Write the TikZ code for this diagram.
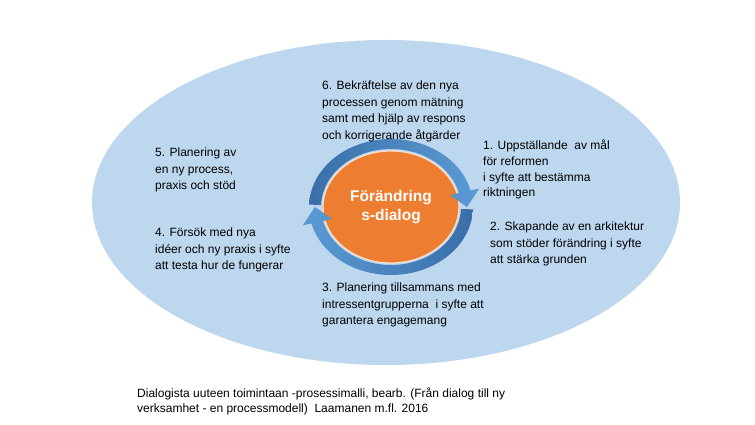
\documentclass[tikz,border=0pt]{standalone}
\usepackage{fontspec}
\setmainfont{Liberation Sans}
\usetikzlibrary{shapes.geometric}

\definecolor{fond}{HTML}{BDD7EE}
\definecolor{orange}{HTML}{ED7D31}
\definecolor{bleuclair}{HTML}{5B9BD5}
\definecolor{bleufonce}{HTML}{3A6EA8}

\begin{document}
\begin{tikzpicture}[x=1pt, y=1pt,
		etape/.style={anchor=north west, align=left, inner sep=0pt,
			font=\fontsize{12}{16.5}\selectfont}]
		
		\useasboundingbox (0,0) rectangle (755,425);
		
		% Grande ellipse de fond
		\node[ellipse, fill=fond, minimum width=588, minimum height=325, inner sep=0pt] (cadre) at (386,222.5) {};
		
		% Noyau orange au centre
		\node[ellipse, fill=orange, draw=white!75!orange, line width=1.2pt,
			minimum width=136, minimum height=112, align=center, text=white,
			font=\fontsize{15.5}{19}\selectfont\bfseries] (coeur) at (391,218) {Förändring\\s-dialog};
		
		% Flèches circulaires autour du noyau
		\begin{scope}[shift={(coeur.center)}]
			\shade[left color=bleufonce, right color=bleuclair]
				(178:70 and 58) arc[start angle=178, end angle=14, x radius=70, y radius=58]
				-- (14:61 and 49) -- (0:76 and 62) -- (14:91 and 76) -- (14:82 and 68)
				arc[start angle=14, end angle=178, x radius=82, y radius=68] -- cycle;
			\shade[left color=bleuclair, right color=bleufonce]
				(-2:82 and 68) arc[start angle=-2, end angle=-166, x radius=82, y radius=68]
				-- (-166:91 and 76) -- (-180:76 and 62) -- (-166:61 and 49) -- (-166:70 and 58)
				arc[start angle=-166, end angle=-2, x radius=70, y radius=58] -- cycle;
		\end{scope}
		
		% Les six étapes
		\node[etape] (etape6) at (322,344) {6. Bekräftelse av den nya\\processen genom mätning\\samt med hjälp av respons\\och korrigerande åtgärder};
		\node[etape, font=\fontsize{12}{15.7}\selectfont] (etape1) at (483,285) {1. Uppställande\ \ av mål\\för reformen\\i syfte att bestämma\\riktningen};
		\node[etape] (etape2) at (490,203) {2. Skapande av en arkitektur\\som stöder förändring i syfte\\att stärka grunden};
		\node[etape] (etape3) at (322,142) {3. Planering tillsammans med\\intressentgrupperna\ \ i syfte att\\garantera engagemang};
		\node[etape] (etape4) at (155,197) {4. Försök med nya\\idéer och ny praxis i syfte\\att testa hur de fungerar};
		\node[etape] (etape5) at (155,277) {5. Planering av\\en ny process,\\praxis och stöd};
		
		% Légende
		\node[etape, font=\fontsize{12}{15}\selectfont] (legende) at (137,37) {Dialogista uuteen toimintaan -prosessimalli, bearb. (Från dialog till ny\\verksamhet - en processmodell)\ \ Laamanen m.fl. 2016};
		
	\end{tikzpicture}
\end{document}
